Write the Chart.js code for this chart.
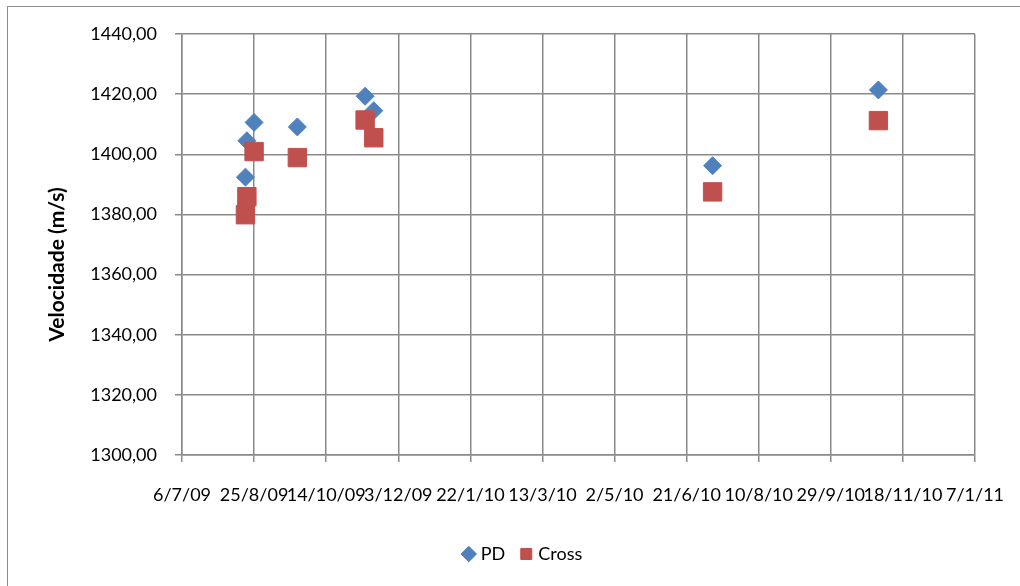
<!DOCTYPE html>
<html>
<head>
<meta charset="utf-8">
<title>Velocidade - PD e Cross</title>
<script src="https://cdn.jsdelivr.net/npm/chart.js@4.4.0/dist/chart.umd.min.js"></script>
<style>
  html, body { margin: 0; padding: 0; background: #fff; overflow: hidden; }
  #moldura { position: absolute; left: 7px; top: 6px; width: 1012px; height: 579px; border-left: 1px solid #8c8c8c; border-top: 1px solid #8c8c8c; }
  #caixa { position: absolute; left: 0; top: 0; width: 1020px; height: 586px; }
</style>
</head>
<body>
<div id="moldura"></div>
<div id="caixa"><canvas id="grafico"></canvas></div>
<script>
// datas das medicoes e velocidades (m/s)
var datasPD = ['2009-08-19', '2009-08-20', '2009-08-25', '2009-09-24', '2009-11-10', '2009-11-16', '2010-07-09', '2010-11-01'];
var valoresPD = [1392.4, 1404.5, 1410.6, 1409.1, 1419.3, 1414.5, 1396.2, 1421.4];
var datasCross = ['2009-08-19', '2009-08-20', '2009-08-25', '2009-09-24', '2009-11-10', '2009-11-16', '2010-07-09', '2010-11-01'];
var valoresCross = [1379.9, 1385.9, 1400.9, 1398.9, 1411.4, 1405.5, 1387.5, 1411.2];

// eixos
var eixoXInicio = '2009-07-06';
var eixoXFim = '2011-01-07';
var eixoXPasso = 50; // dias
var eixoYMin = 1300;
var eixoYMax = 1440;
var eixoYPasso = 20;

var ZERO_EXCEL = Date.UTC(1899, 11, 30);
var DIA = 86400000;

// data -> numero de serie (dias), como no excel
function serial(s) {
    var p = s.split('-');
    return Math.round((Date.UTC(+p[0], +p[1] - 1, +p[2]) - ZERO_EXCEL) / DIA);
}

function rotuloData(v) {
    var d = new Date(ZERO_EXCEL + v * DIA);
    return d.getUTCDate() + '/' + (d.getUTCMonth() + 1) + '/' + String(d.getUTCFullYear() % 100).padStart(2, '0');
}

function pontos(datas, valores) {
    return datas.map(function (d, i) { return { x: serial(d), y: valores[i] }; });
}

var cinza = '#8a8a8a';
Chart.defaults.font.family = 'Lato, "Open Sans", sans-serif';
Chart.defaults.font.size = 18;
Chart.defaults.color = '#000';

// titulo do eixo y, centrado entre o topo do grafico e os rotulos de data
const tituloEixoY = {
    id: 'tituloEixoY',
    afterDraw(chart) {
        const ctx = chart.ctx;
        const area = chart.chartArea;
        ctx.save();
        ctx.translate(area.left - 125, (area.top + area.bottom) / 2 + 20);
        ctx.rotate(-Math.PI / 2);
        ctx.font = 'bold 21px Lato, "Open Sans", sans-serif';
        ctx.fillStyle = '#000';
        ctx.textAlign = 'center';
        ctx.textBaseline = 'middle';
        ctx.fillText('Velocidade (m/s)', 0, 0);
        ctx.restore();
    }
};

const grafico = new Chart(document.getElementById('grafico').getContext('2d'), {
    type: 'scatter',
    data: {
        datasets: [{
            label: 'PD',
            data: pontos(datasPD, valoresPD),
            pointStyle: 'rectRot',
            pointRadius: 9,
            pointHoverRadius: 9,
            backgroundColor: '#4F81BD',
            borderColor: '#4F81BD',
            borderWidth: 1,
            order: 1
        }, {
            label: 'Cross',
            data: pontos(datasCross, valoresCross),
            pointStyle: 'rect',
            pointRadius: 13,
            pointHoverRadius: 13,
            backgroundColor: '#C0504D',
            borderColor: '#C0504D',
            borderWidth: 1,
            order: 0
        }]
    },
    options: {
        responsive: true,
        maintainAspectRatio: false,
        animation: false,
        layout: { padding: { left: 73, right: 45, top: 34, bottom: 13 } },
        plugins: {
            tooltip: { enabled: false },
            legend: {
                position: 'bottom',
                labels: {
                    usePointStyle: true,
                    boxWidth: 6,
                    boxHeight: 11,
                    padding: 18,
                    sort: function (a, b) { return a.datasetIndex - b.datasetIndex; }
                }
            }
        },
        scales: {
            x: {
                type: 'linear',
                min: serial(eixoXInicio),
                max: serial(eixoXFim),
                ticks: {
                    stepSize: eixoXPasso,
                    autoSkip: false,
                    maxRotation: 0,
                    padding: 22,
                    callback: function (v) { return rotuloData(v); }
                },
                grid: { color: cinza, lineWidth: 1.5, tickLength: 7 },
                border: { color: cinza, width: 1.5 },
                afterFit: function (s) {
                    s.height = 72;
                    s.paddingLeft = 0;
                    s.paddingRight = 0;
                }
            },
            y: {
                min: eixoYMin,
                max: eixoYMax,
                ticks: {
                    stepSize: eixoYPasso,
                    padding: 18,
                    callback: function (v) { return v.toFixed(2).replace('.', ','); }
                },
                grid: { color: cinza, lineWidth: 1.5, tickLength: 7 },
                border: { color: cinza, width: 1.5 },
                afterFit: function (s) { s.width = 109; }
            }
        }
    },
    plugins: [tituloEixoY]
});
</script>
</body>
</html>
